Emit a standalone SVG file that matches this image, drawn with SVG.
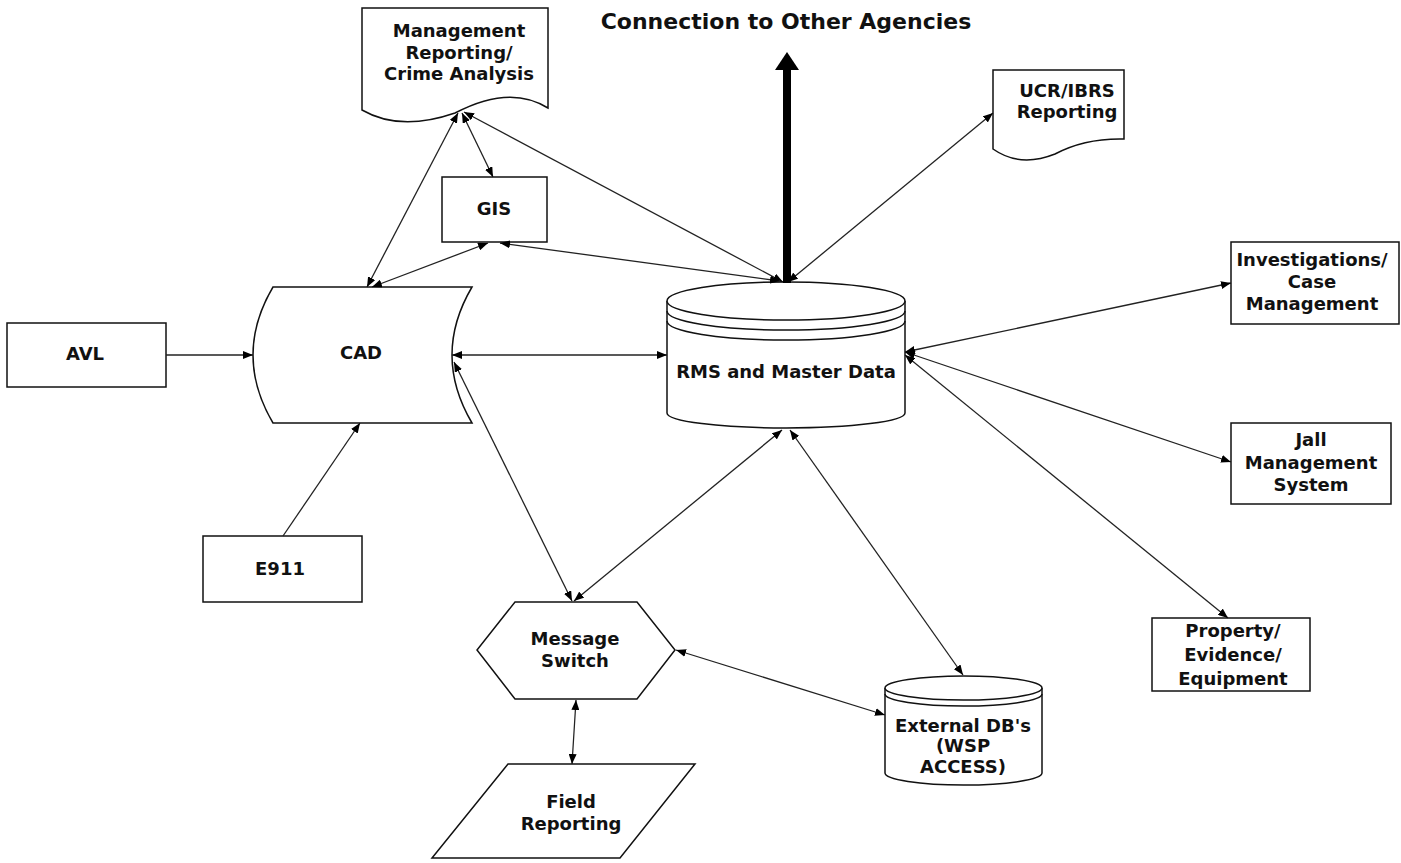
<svg xmlns="http://www.w3.org/2000/svg" width="1401" height="863" viewBox="0 0 1401 863">
<style>
.s{fill:#fff;stroke:#111;stroke-width:1.5}
.t{font-family:"DejaVu Sans",Verdana,sans-serif;font-weight:bold;font-size:18px;fill:#111;text-anchor:middle}
.c{fill:none;stroke:#222;stroke-width:1.3}
.b{marker-start:url(#ah);marker-end:url(#ah)}
.e{marker-end:url(#ah)}
</style>
<defs>
<marker id="ah" viewBox="0 0 10 8" refX="10" refY="4" markerWidth="10" markerHeight="8" orient="auto-start-reverse" markerUnits="userSpaceOnUse">
<path d="M0,0 L10,4 L0,8 z" fill="#000"/>
</marker>
</defs>
<rect width="1401" height="863" fill="#fff"/>

<g id="title">
<text class="t" x="786" y="29" style="font-size:22px">Connection to Other Agencies</text>
</g>

<g id="mgmt">
<path class="s" d="M362,110 L362,8 L548,8 L548,108 Q510,84 455,113 Q400,132 362,110 Z"/>
<text class="t" x="459" y="37">Management</text>
<text class="t" x="459" y="59">Reporting/</text>
<text class="t" x="459" y="80">Crime Analysis</text>
</g>

<g id="ucr">
<path class="s" d="M993,149 L993,70 L1124,70 L1124,139 Q1085,138 1055,154 Q1020,168 993,149 Z"/>
<text class="t" x="1067" y="97">UCR/IBRS</text>
<text class="t" x="1067" y="118">Reporting</text>
</g>

<g id="gis">
<rect class="s" x="442" y="177" width="105" height="65"/>
<text class="t" x="494" y="215">GIS</text>
</g>

<g id="cad">
<path class="s" d="M273,287 L472,287 Q432,355 472,423 L273,423 Q233,355 273,287 Z"/>
<text class="t" x="361" y="359">CAD</text>
</g>

<g id="avl">
<rect class="s" x="7" y="323" width="159" height="64"/>
<text class="t" x="85" y="360">AVL</text>
</g>

<g id="e911">
<rect class="s" x="203" y="536" width="159" height="66"/>
<text class="t" x="280" y="575">E911</text>
</g>

<g id="rms">
<path class="s" d="M667,301 L667,413 A119,15 0 0 0 905,413 L905,301"/>
<ellipse class="s" cx="786" cy="301" rx="119" ry="19"/>
<path class="s" style="fill:none" d="M667,311 A119,19 0 0 0 905,311"/>
<path class="s" style="fill:none" d="M667,321 A119,19 0 0 0 905,321"/>
<text class="t" x="786" y="378">RMS and Master Data</text>
</g>

<g id="invest">
<rect class="s" x="1231" y="242" width="168" height="82"/>
<text class="t" x="1312" y="266">Investigations/</text>
<text class="t" x="1312" y="288">Case</text>
<text class="t" x="1312" y="310">Management</text>
</g>

<g id="jail">
<rect class="s" x="1231" y="423" width="160" height="81"/>
<text class="t" x="1311" y="446">Jall</text>
<text class="t" x="1311" y="469">Management</text>
<text class="t" x="1311" y="491">System</text>
</g>

<g id="property">
<rect class="s" x="1152" y="618" width="158" height="73"/>
<text class="t" x="1233" y="637">Property/</text>
<text class="t" x="1233" y="661">Evidence/</text>
<text class="t" x="1233" y="685">Equipment</text>
</g>

<g id="msgswitch">
<path class="s" d="M515,602 L637,602 L675,650 L637,699 L515,699 L477,650 Z"/>
<text class="t" x="575" y="645">Message</text>
<text class="t" x="575" y="667">Switch</text>
</g>

<g id="field">
<path class="s" d="M508,764 L695,764 L620,858 L432,858 Z"/>
<text class="t" x="571" y="808">Field</text>
<text class="t" x="571" y="830">Reporting</text>
</g>

<g id="extdb">
<path class="s" d="M885,688 L885,773 A78.5,12 0 0 0 1042,773 L1042,688"/>
<ellipse class="s" cx="963.5" cy="688" rx="78.5" ry="12"/>
<path class="s" style="fill:none" d="M885,694 A78.5,12 0 0 0 1042,694"/>
<text class="t" x="963" y="732">External DB's</text>
<text class="t" x="963" y="752">(WSP</text>
<text class="t" x="963" y="773">ACCESS)</text>
</g>

<g id="connectors">
<line class="c e" x1="166" y1="355" x2="253" y2="355"/>
<line class="c e" x1="283" y1="536" x2="360" y2="423"/>
<line class="c b" x1="452" y1="355" x2="667" y2="355"/>
<line class="c b" x1="367" y1="287" x2="458" y2="113"/>
<line class="c b" x1="372" y1="287" x2="488" y2="243"/>
<line class="c b" x1="462" y1="113" x2="493" y2="177"/>
<line class="c b" x1="464" y1="112" x2="783" y2="282"/>
<line class="c b" x1="500" y1="243" x2="780" y2="281"/>
<line class="c b" x1="788" y1="282" x2="993" y2="113"/>
<line class="c b" x1="905" y1="352" x2="1231" y2="283"/>
<line class="c b" x1="905" y1="352" x2="1231" y2="462"/>
<line class="c b" x1="905" y1="355" x2="1228" y2="618"/>
<line class="c b" x1="782" y1="430" x2="574" y2="601"/>
<line class="c b" x1="790" y1="430" x2="963" y2="675"/>
<line class="c b" x1="454" y1="362" x2="572" y2="601"/>
<line class="c b" x1="676" y1="650" x2="885" y2="715"/>
<line class="c b" x1="576" y1="700" x2="572" y2="764"/>
<line x1="787" y1="283" x2="787" y2="68" stroke="#000" stroke-width="8"/>
<path d="M787,52 L799,70 L775,70 Z" fill="#000"/>
</g>
</svg>
